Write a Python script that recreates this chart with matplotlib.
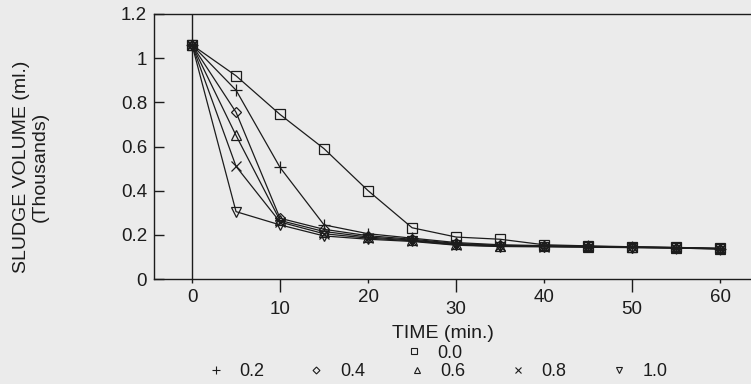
import matplotlib
matplotlib.use("Agg")
import matplotlib.pyplot as plt
from matplotlib.lines import Line2D

# Settling time (minutes) and sludge volume (thousands of ml) per dose
time_min = [0, 5, 10, 15, 20, 25, 30, 35, 40, 45, 50, 55, 60]
dose_labels = ["0.0", "0.2", "0.4", "0.6", "0.8", "1.0"]
vol_00 = [1.06, 0.92, 0.745, 0.59, 0.40, 0.232, 0.19, 0.18, 0.155, 0.15, 0.146, 0.143, 0.139]
vol_02 = [1.06, 0.855, 0.505, 0.245, 0.205, 0.185, 0.165, 0.155, 0.151, 0.148, 0.145, 0.142, 0.138]
vol_04 = [1.06, 0.755, 0.275, 0.225, 0.196, 0.18, 0.161, 0.152, 0.15, 0.147, 0.145, 0.142, 0.138]
vol_06 = [1.06, 0.65, 0.265, 0.215, 0.19, 0.176, 0.158, 0.15, 0.148, 0.146, 0.144, 0.141, 0.137]
vol_08 = [1.06, 0.51, 0.258, 0.205, 0.185, 0.173, 0.155, 0.148, 0.147, 0.145, 0.143, 0.14, 0.136]
vol_10 = [1.06, 0.305, 0.245, 0.195, 0.18, 0.17, 0.153, 0.147, 0.146, 0.144, 0.142, 0.14, 0.136]
series = [vol_00, vol_02, vol_04, vol_06, vol_08, vol_10]

x_ticks_even = [0, 20, 40, 60]
x_ticks_odd = [10, 30, 50]
y_ticks = [0, 0.2, 0.4, 0.6, 0.8, 1.0, 1.2]
y_tick_labels = ["0", "0.2", "0.4", "0.6", "0.8", "1", "1.2"]

markers = ["s", "+", "D", "^", "x", "v"]
marker_sizes = [6.5, 8, 5, 6.5, 6.5, 6.5]

plt.rcParams["font.family"] = ["Liberation Sans", "DejaVu Sans"]
ink = "#1c1c1c"
paper = "#ebebeb"

fig = plt.figure(figsize=(7.51, 3.84), dpi=100, facecolor=paper)
ax = fig.add_axes([154 / 751, 1 - 279 / 384, 597 / 751, 265 / 384])
ax.set_facecolor(paper)
ax.set_xlim(-4.32, 63.5)
ax.set_ylim(0, 1.2)

for vals, m, ms in zip(series, markers, marker_sizes):
    ax.plot(time_min, vals, color=ink, lw=0.9, marker=m, ms=ms,
            mfc="none", mec=ink, mew=0.9)

# vertical reference line at t = 0
ax.axvline(0, color=ink, lw=1.0)

for side in ("left", "top", "bottom"):
    ax.spines[side].set_color(ink)
    ax.spines[side].set_linewidth(1.0)
ax.spines["right"].set_visible(False)

ax.set_yticks(y_ticks, labels=y_tick_labels)
ax.tick_params(axis="y", direction="in", length=7.5, width=1.0, pad=5,
               labelsize=13.5, colors=ink)

ax.set_xticks(x_ticks_even, labels=[str(v) for v in x_ticks_even])
ax.set_xticks(x_ticks_odd, labels=[str(v) for v in x_ticks_odd], minor=True)
ax.tick_params(axis="x", which="major", direction="out", length=3, width=1.0,
               pad=4, labelsize=13.5, colors=ink)
ax.tick_params(axis="x", which="minor", direction="out", length=9.4, width=1.0,
               pad=6.8, labelsize=13.5, colors=ink)

ax.set_xlabel("TIME (min.)", fontsize=14, color=ink)
ax.xaxis.set_label_coords((443 - 154) / 597, (279 - 334) / 265)
ax.xaxis.label.set_va("center")

fig.text(22 / 751, 1 - 167 / 384, "SLUDGE VOLUME (ml.)", rotation=90,
         ha="center", va="center", fontsize=14, color=ink)
fig.text(40 / 751, 1 - 167 / 384, "(Thousands)", rotation=90,
         ha="center", va="center", fontsize=14, color=ink)

handles = [Line2D([], [], ls="none", marker=m, ms=ms * 0.7, mfc="none",
                  mec=ink, mew=0.8)
           for m, ms in zip(markers, marker_sizes)]

legend_kw = dict(frameon=False, handlelength=1.0, handletextpad=0.8,
                 columnspacing=2.4, borderpad=0, fontsize=13,
                 loc="center", bbox_transform=fig.transFigure,
                 labelcolor=ink)
leg_bottom = ax.legend(handles[1:], dose_labels[1:], ncol=5,
                       bbox_to_anchor=(437 / 751, 1 - 372 / 384), **legend_kw)
ax.add_artist(leg_bottom)
ax.legend(handles[:1], dose_labels[:1], ncol=1,
          bbox_to_anchor=(434 / 751, 1 - 353 / 384), **legend_kw)

fig.savefig("out.png", dpi=100, facecolor=paper)
